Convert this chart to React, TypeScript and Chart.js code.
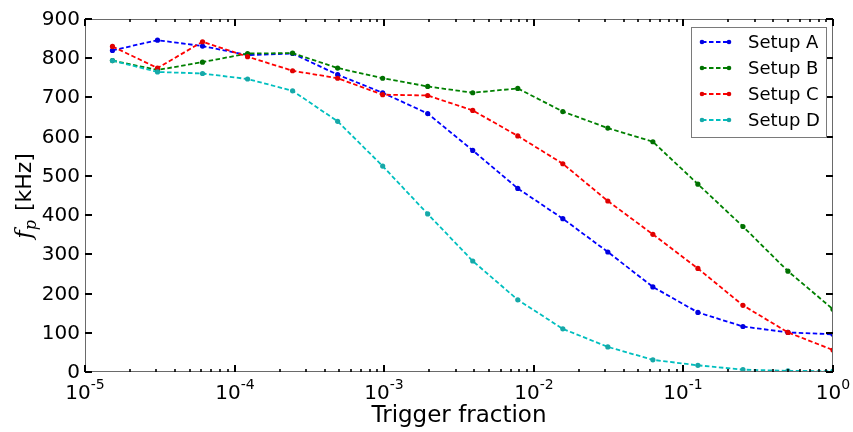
import React, { useEffect, useRef } from "react";
import { Chart, registerables } from "chart.js";

Chart.register(...registerables);

const TRIGGER_FRACTION = [
  1.526e-5, 3.052e-5, 6.104e-5, 1.221e-4, 2.441e-4, 4.883e-4, 9.766e-4, 1.953e-3,
  3.906e-3, 7.813e-3, 1.5625e-2, 3.125e-2, 6.25e-2, 0.125, 0.25, 0.5, 1,
];
const SETUP_A = [820, 846, 831, 808, 812, 758, 712, 659, 565, 468, 391, 306, 217, 152, 116, 101, 96];
const SETUP_B = [794, 770, 790, 812, 813, 775, 749, 728, 712, 723, 664, 622, 587, 479, 371, 257, 160];
const SETUP_C = [830, 775, 842, 804, 768, 749, 707, 705, 667, 602, 531, 436, 351, 264, 170, 101, 56];
const SETUP_D = [794, 765, 761, 747, 717, 639, 525, 403, 283, 184, 110, 64, 31, 17, 6, 3, 2];
const SERIES_LABELS = ["Setup A", "Setup B", "Setup C", "Setup D"];
const LINE_COLORS = ["#0000ff", "#008000", "#ff0000", "#00bfbf"];
const MARKER_COLORS = ["#0000e0", "#007000", "#e00000", "#16a8a8"];
const Y_TICKS = [0, 100, 200, 300, 400, 500, 600, 700, 800, 900];
const X_DECADES = [-5, -4, -3, -2, -1, 0];
const X_TITLE = "Trigger fraction";

const FONT = "'DejaVu Sans', sans-serif";

const decorPlugin = {
  id: "decor",
  afterDraw(chart: any) {
    const ctx: CanvasRenderingContext2D = chart.ctx;
    const { left, right, top, bottom } = chart.chartArea;
    const xs = chart.scales.x;
    const ys = chart.scales.y;
    ctx.save();

    // frame
    ctx.strokeStyle = "#6a6a6a";
    ctx.lineWidth = 1;
    ctx.strokeRect(left + 0.5, top + 0.5, right - left - 1, bottom - top - 1);

    // y ticks + labels
    ctx.strokeStyle = "#000";
    ctx.fillStyle = "#000";
    ctx.font = `20px ${FONT}`;
    ctx.textAlign = "right";
    ctx.textBaseline = "middle";
    for (const v of Y_TICKS) {
      const py = Math.round(ys.getPixelForValue(v));
      ctx.lineWidth = 2;
      ctx.beginPath();
      ctx.moveTo(left, py);
      ctx.lineTo(left + 7, py);
      ctx.moveTo(right, py);
      ctx.lineTo(right - 7, py);
      ctx.stroke();
      ctx.fillText(String(v), left - 5, py + 1);
    }

    // x ticks (major + minor)
    for (let i = 0; i < X_DECADES.length; i++) {
      const e = X_DECADES[i];
      const px = Math.round(xs.getPixelForValue(Math.pow(10, e)));
      ctx.lineWidth = 2;
      ctx.beginPath();
      ctx.moveTo(px, bottom);
      ctx.lineTo(px, bottom - 7);
      ctx.moveTo(px, top);
      ctx.lineTo(px, top + 7);
      ctx.stroke();
      if (i < X_DECADES.length - 1) {
        for (let k = 2; k <= 9; k++) {
          const mx = Math.round(xs.getPixelForValue(k * Math.pow(10, e)));
          ctx.lineWidth = 1.6;
          ctx.beginPath();
          ctx.moveTo(mx, bottom);
          ctx.lineTo(mx, bottom - 3);
          ctx.moveTo(mx, top);
          ctx.lineTo(mx, top + 3);
          ctx.stroke();
        }
      }
      // label 10^e
      const base = "10";
      const exp = String(e);
      ctx.font = `20px ${FONT}`;
      const wb = ctx.measureText(base).width;
      ctx.font = `14px ${FONT}`;
      const we = ctx.measureText(exp).width;
      const x0 = px - (wb + we) / 2;
      ctx.textAlign = "left";
      ctx.textBaseline = "alphabetic";
      ctx.font = `20px ${FONT}`;
      ctx.fillText(base, x0, 399);
      ctx.font = `14px ${FONT}`;
      ctx.fillText(exp, x0 + wb, 389);
    }

    // x title
    ctx.font = `23px ${FONT}`;
    ctx.textAlign = "center";
    ctx.textBaseline = "alphabetic";
    ctx.fillText(X_TITLE, (left + right) / 2, 422);

    // y title: f_p [kHz]
    ctx.save();
    ctx.translate(31, 196);
    ctx.rotate(-Math.PI / 2);
    ctx.textBaseline = "alphabetic";
    ctx.textAlign = "left";
    ctx.font = `italic 23px 'DejaVu Serif', serif`;
    const wf = ctx.measureText("f").width;
    ctx.font = `italic 16px 'DejaVu Serif', serif`;
    const wp = ctx.measureText("p").width;
    ctx.font = `22px ${FONT}`;
    const wr = ctx.measureText(" [kHz]").width;
    const total = wf + wp + wr + 2;
    let cx = -total / 2;
    ctx.font = `italic 23px 'DejaVu Serif', serif`;
    ctx.fillText("f", cx, 0);
    cx += wf;
    ctx.font = `italic 16px 'DejaVu Serif', serif`;
    ctx.fillText("p", cx, 5);
    cx += wp + 2;
    ctx.font = `22px ${FONT}`;
    ctx.fillText(" [kHz]", cx, 0);
    ctx.restore();

    // legend
    const lx = 691, ly = 27, lw = 135, lh = 110;
    ctx.fillStyle = "#fff";
    ctx.fillRect(lx, ly, lw, lh);
    ctx.strokeStyle = "#7a7a7a";
    ctx.lineWidth = 1;
    ctx.strokeRect(lx + 0.5, ly + 0.5, lw, lh);
    ctx.font = `18px ${FONT}`;
    ctx.textAlign = "left";
    ctx.textBaseline = "middle";
    for (let i = 0; i < SERIES_LABELS.length; i++) {
      const yy = 42 + i * 26;
      ctx.strokeStyle = LINE_COLORS[i];
      ctx.lineWidth = 1.8;
      ctx.setLineDash([4.5, 2.5]);
      ctx.beginPath();
      ctx.moveTo(702, yy);
      ctx.lineTo(729, yy);
      ctx.stroke();
      ctx.setLineDash([]);
      ctx.fillStyle = MARKER_COLORS[i];
      for (const mx of [702, 729]) {
        ctx.beginPath();
        ctx.arc(mx, yy, 2.3, 0, Math.PI * 2);
        ctx.fill();
      }
      ctx.fillStyle = "#000";
      ctx.fillText(SERIES_LABELS[i], 748, yy + 1);
    }
    ctx.restore();
  },
};

export default function App() {
  const ref = useRef<HTMLCanvasElement>(null);
  useEffect(() => {
    if (!ref.current) return;
    const values = [SETUP_A, SETUP_B, SETUP_C, SETUP_D];
    const chart = new Chart(ref.current, {
      type: "scatter",
      data: {
        datasets: values.map((vals, i) => ({
          label: SERIES_LABELS[i],
          data: TRIGGER_FRACTION.map((x, j) => ({ x, y: vals[j] })),
          showLine: true,
          borderColor: LINE_COLORS[i],
          backgroundColor: MARKER_COLORS[i],
          pointBackgroundColor: MARKER_COLORS[i],
          pointBorderWidth: 0,
          pointRadius: 2.6,
          borderWidth: 1.8,
          borderDash: [4.5, 2.5],
          order: 3 - i,
        })),
      },
      options: {
        animation: false,
        responsive: false,
        devicePixelRatio: 1,
        layout: { padding: { top: 19, right: 20, left: 0, bottom: 0 } },
        plugins: { legend: { display: false }, tooltip: { enabled: false } },
        scales: {
          x: {
            type: "logarithmic",
            min: 1e-5,
            max: 1,
            ticks: { display: false },
            grid: { display: false, drawTicks: false },
            border: { display: false },
            afterFit: (s: any) => {
              s.height = 60;
            },
          },
          y: {
            type: "linear",
            min: 0,
            max: 900,
            ticks: { display: false },
            grid: { display: false, drawTicks: false },
            border: { display: false },
            afterFit: (s: any) => {
              s.width = 85;
            },
          },
        },
      },
      plugins: [decorPlugin],
    } as any);
    return () => chart.destroy();
  }, []);
  return (
    <div style={{ position: "absolute", left: 0, top: 0, width: 853, height: 432, background: "#fff" }}>
      <canvas ref={ref} width={853} height={432} style={{ width: 853, height: 432 }} />
    </div>
  );
}
